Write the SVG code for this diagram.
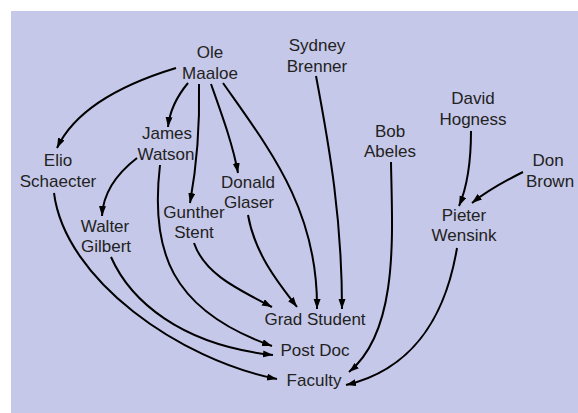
<svg xmlns="http://www.w3.org/2000/svg" width="578" height="413" viewBox="0 0 578 413">
<style>
.lbl{font-family:"Liberation Sans",Arial,sans-serif;font-size:17px;fill:#222;text-anchor:middle}
.e{fill:none;stroke:#000;stroke-width:2;marker-end:url(#ah)}
</style>
<defs>
<marker id="ah" markerUnits="userSpaceOnUse" markerWidth="12" markerHeight="8" refX="10" refY="3.5" orient="auto">
<path d="M0,0 L10,3.5 L0,7 z" fill="#000"/>
</marker>
</defs>
<rect x="0" y="0" width="578" height="413" fill="#fff"/>
<rect x="11" y="11" width="567" height="402" fill="#c6c8e9"/>
<g id="connectors">
<path class="e" d="M176,68 C120,85 75,110 57,148"/>
<path class="e" d="M188,83 C178,95 170,108 168,127"/>
<path class="e" d="M199,84 C200,130 196,170 190,203"/>
<path class="e" d="M211,84 C222,115 233,145 238,173"/>
<path class="e" d="M223,83 C270,150 318,210 317,309"/>
<path class="e" d="M316,76 C330,150 342,220 342,309"/>
<path class="e" d="M248,215 C255,255 280,285 297,307"/>
<path class="e" d="M194,243 C205,275 240,290 272,307"/>
<path class="e" d="M160,165 C150,250 170,310 272,346"/>
<path class="e" d="M111,257 C130,300 180,345 273,355"/>
<path class="e" d="M137,158 C115,175 103,195 102,216"/>
<path class="e" d="M54,193 C65,280 180,360 277,379"/>
<path class="e" d="M391,162 C392,230 400,330 349,372"/>
<path class="e" d="M471,131 C471,160 468,185 459,206"/>
<path class="e" d="M523,172 C505,181 488,190 472,203"/>
<path class="e" d="M457,248 C445,320 410,370 346,385"/>
</g>
<g id="ole"><text class="lbl" x="210" y="58">Ole</text><text class="lbl" x="210" y="79">Maaloe</text></g>
<g id="sydney"><text class="lbl" x="317" y="51">Sydney</text><text class="lbl" x="317" y="72">Brenner</text></g>
<g id="david"><text class="lbl" x="473" y="104">David</text><text class="lbl" x="473" y="125">Hogness</text></g>
<g id="bob"><text class="lbl" x="390" y="137">Bob</text><text class="lbl" x="390" y="157">Abeles</text></g>
<g id="don"><text class="lbl" x="548" y="166">Don</text><text class="lbl" x="550" y="187">Brown</text></g>
<g id="pieter"><text class="lbl" x="464" y="221">Pieter</text><text class="lbl" x="464" y="241">Wensink</text></g>
<g id="elio"><text class="lbl" x="58" y="166">Elio</text><text class="lbl" x="58" y="187">Schaecter</text></g>
<g id="james"><text class="lbl" x="167" y="139">James</text><text class="lbl" x="166" y="160">Watson</text></g>
<g id="donald"><text class="lbl" x="248" y="188">Donald</text><text class="lbl" x="249" y="208">Glaser</text></g>
<g id="gunther"><text class="lbl" x="194" y="218">Gunther</text><text class="lbl" x="194" y="238">Stent</text></g>
<g id="walter"><text class="lbl" x="105" y="232">Walter</text><text class="lbl" x="106" y="252">Gilbert</text></g>
<g id="grad"><text class="lbl" x="315" y="325">Grad Student</text></g>
<g id="postdoc"><text class="lbl" x="315" y="356">Post Doc</text></g>
<g id="faculty"><text class="lbl" x="314" y="386">Faculty</text></g>
</svg>
